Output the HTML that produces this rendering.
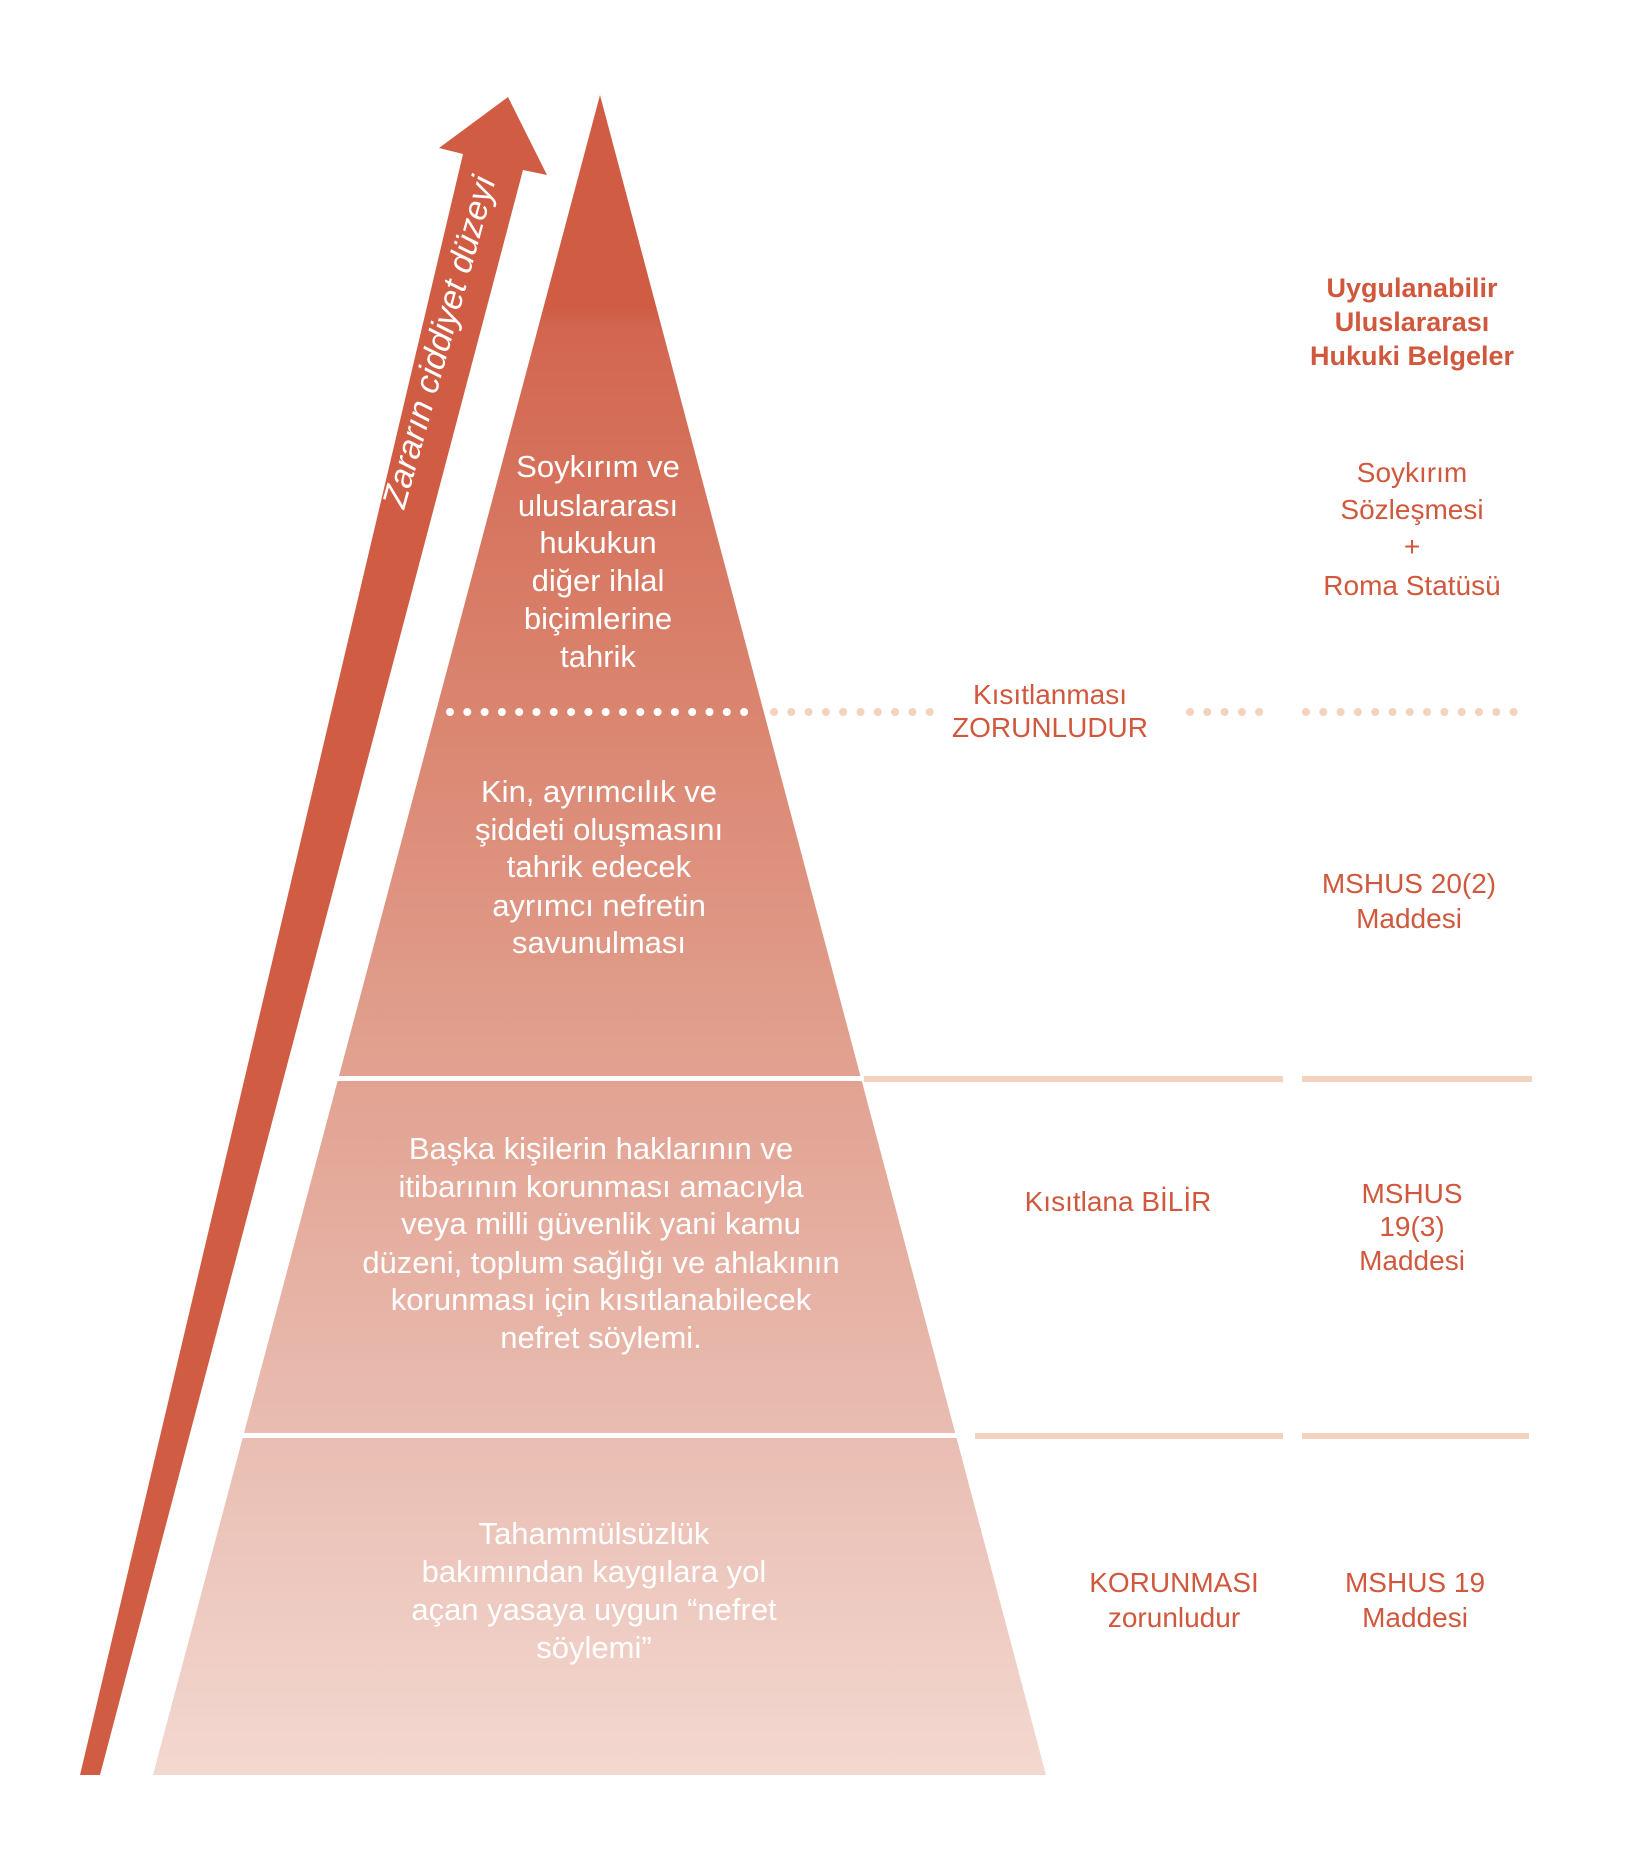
<!DOCTYPE html>
<html><head><meta charset="utf-8"><style>
html,body{margin:0;padding:0;background:#fff;}
svg{display:block;}
.w{fill:#fff;font-family:"Liberation Sans",sans-serif;font-size:31px;text-anchor:middle;}
.r{fill:#d0583d;font-family:"Liberation Sans",sans-serif;font-size:28px;text-anchor:middle;}
.b{font-weight:bold;font-size:27px;}
</style></head><body>
<svg width="1634" height="1860" viewBox="0 0 1634 1860" xmlns="http://www.w3.org/2000/svg">
<defs>
<linearGradient id="g" x1="0" y1="95" x2="0" y2="1775" gradientUnits="userSpaceOnUse">
<stop offset="0" stop-color="#d05c43"/>
<stop offset="0.127" stop-color="#d05c43"/>
<stop offset="0.14" stop-color="#d36650"/>
<stop offset="0.367" stop-color="#da8570"/>
<stop offset="0.585" stop-color="#e2a291"/>
<stop offset="0.798" stop-color="#e9bdb2"/>
<stop offset="1" stop-color="#f3d8d0"/>
</linearGradient>
</defs>
<polygon points="600,95 1046,1775 153,1775" fill="url(#g)"/>
<rect x="335" y="1076" width="528" height="5" fill="#fff"/>
<rect x="864" y="1076" width="419" height="6" fill="#f3d3bd"/>
<rect x="1302" y="1076" width="230" height="6" fill="#f3d3bd"/>
<rect x="240" y="1433" width="722" height="5" fill="#fff"/>
<rect x="975" y="1433" width="308" height="6" fill="#f3d3bd"/>
<rect x="1302" y="1433" width="227" height="6" fill="#f3d3bd"/>
<line x1="450" y1="712" x2="760" y2="712" stroke="#fff" stroke-width="8" stroke-linecap="round" stroke-dasharray="0 17.3"/>
<line x1="774" y1="712" x2="942" y2="712" stroke="#f3d3bd" stroke-width="8" stroke-linecap="round" stroke-dasharray="0 17.3"/>
<line x1="1190" y1="712" x2="1272" y2="712" stroke="#f3d3bd" stroke-width="8" stroke-linecap="round" stroke-dasharray="0 17.3"/>
<line x1="1306" y1="712" x2="1518" y2="712" stroke="#f3d3bd" stroke-width="8" stroke-linecap="round" stroke-dasharray="0 17.3"/>
<polygon points="80,1775 100,1775 523,170 547,175 508,97 439,148 463,154" fill="#d05c43"/>
<text class="w" transform="translate(450,345) rotate(-74.5)" style="font-size:34px;font-style:italic">Zararın ciddiyet düzeyi</text>

<text class="w" x="598" y="477">Soykırım ve</text>
<text class="w" x="598" y="516">uluslararası</text>
<text class="w" x="598" y="553">hukukun</text>
<text class="w" x="598" y="591">diğer ihlal</text>
<text class="w" x="598" y="629">biçimlerine</text>
<text class="w" x="598" y="667">tahrik</text>

<text class="w" x="599" y="802">Kin, ayrımcılık ve</text>
<text class="w" x="599" y="840">şiddeti oluşmasını</text>
<text class="w" x="599" y="877">tahrik edecek</text>
<text class="w" x="599" y="916">ayrımcı nefretin</text>
<text class="w" x="599" y="953">savunulması</text>

<text class="w" x="601" y="1159">Başka kişilerin haklarının ve</text>
<text class="w" x="601" y="1197">itibarının korunması amacıyla</text>
<text class="w" x="601" y="1234">veya milli güvenlik yani kamu</text>
<text class="w" x="601" y="1273">düzeni, toplum sağlığı ve ahlakının</text>
<text class="w" x="601" y="1310">korunması için kısıtlanabilecek</text>
<text class="w" x="601" y="1348">nefret söylemi.</text>

<text class="w" x="594" y="1544">Tahammülsüzlük</text>
<text class="w" x="594" y="1582">bakımından kaygılara yol</text>
<text class="w" x="594" y="1620">açan yasaya uygun “nefret</text>
<text class="w" x="594" y="1658">söylemi”</text>

<text class="r b" x="1412" y="297">Uygulanabilir</text>
<text class="r b" x="1412" y="331">Uluslararası</text>
<text class="r b" x="1412" y="365">Hukuki Belgeler</text>
<text class="r" x="1412" y="482">Soykırım</text>
<text class="r" x="1412" y="519">Sözleşmesi</text>
<text class="r" x="1412" y="556">+</text>
<text class="r" x="1412" y="595">Roma Statüsü</text>
<text class="r" x="1050" y="704">Kısıtlanması</text>
<text class="r" x="1050" y="737">ZORUNLUDUR</text>
<text class="r" x="1409" y="893">MSHUS 20(2)</text>
<text class="r" x="1409" y="928">Maddesi</text>
<text class="r" x="1118" y="1211">Kısıtlana BİLİR</text>
<text class="r" x="1412" y="1203">MSHUS</text>
<text class="r" x="1412" y="1236">19(3)</text>
<text class="r" x="1412" y="1270">Maddesi</text>
<text class="r" x="1174" y="1592">KORUNMASI</text>
<text class="r" x="1174" y="1627">zorunludur</text>
<text class="r" x="1415" y="1592">MSHUS 19</text>
<text class="r" x="1415" y="1627">Maddesi</text>
</svg>
</body></html>
